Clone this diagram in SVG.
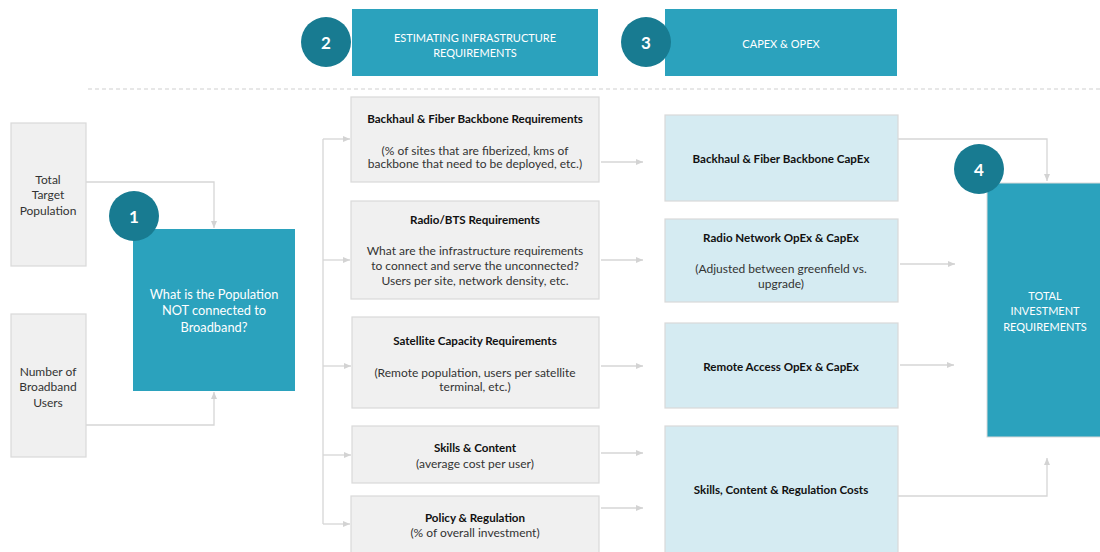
<svg xmlns="http://www.w3.org/2000/svg" width="1100" height="552" viewBox="0 0 1100 552">
<style>
text{font-family:Lato,"Open Sans","Liberation Sans",sans-serif;text-anchor:middle;dominant-baseline:central}
.hdr{fill:#2ba2bd}
.num{fill:#187b91}
.numt{fill:#fff;font-size:17px;font-weight:bold}
.hdrt{fill:#fff;font-size:11px}
.gray{fill:#f0f0f0;stroke:#d9d9d9;stroke-width:1.2}
.light{fill:#d5ebf2;stroke:#d9d9d9;stroke-width:1.2}
.t{fill:#333;font-size:12px}
.b{fill:#111;font-size:11.6px;font-weight:bold}
.wt{fill:#fff;font-size:12.8px}
.wt2{fill:#fff;font-size:11px}
.c{fill:none;stroke:#d6d6d6;stroke-width:1.3}
</style>
<defs>
<marker id="ah" markerUnits="userSpaceOnUse" markerWidth="8" markerHeight="8" refX="7" refY="4" orient="auto">
<path d="M0,1 L7,4 L0,7 Z" fill="#d3d3d3"/>
</marker>
</defs>

<line x1="88" y1="89" x2="1100" y2="89" stroke="#cfcfcf" stroke-width="1" stroke-dasharray="4 3"/>

<g id="header2">
<rect class="hdr" x="352" y="9" width="246" height="67"/>
<text class="hdrt" x="475" y="37">ESTIMATING INFRASTRUCTURE</text>
<text class="hdrt" x="475" y="52">REQUIREMENTS</text>
<circle class="num" cx="326" cy="42" r="25"/>
<text class="numt" x="326" y="42">2</text>
</g>
<g id="header3">
<rect class="hdr" x="665" y="9" width="232" height="67"/>
<text class="hdrt" x="781" y="43">CAPEX &amp; OPEX</text>
<circle class="num" cx="646" cy="42" r="25"/>
<text class="numt" x="646" y="42">3</text>
</g>

<g id="connectors">
<path class="c" d="M86,182 H214 V228" marker-end="url(#ah)"/>
<path class="c" d="M86,425 H214 V392" marker-end="url(#ah)"/>
<path class="c" d="M323,139 V524"/>
<path class="c" d="M323,139 H350" marker-end="url(#ah)"/>
<path class="c" d="M323,260 H350" marker-end="url(#ah)"/>
<path class="c" d="M323,366 H351" marker-end="url(#ah)"/>
<path class="c" d="M323,455 H351" marker-end="url(#ah)"/>
<path class="c" d="M323,524 H350" marker-end="url(#ah)"/>
<path class="c" d="M601,162 H643" marker-end="url(#ah)"/>
<path class="c" d="M601,260 H643" marker-end="url(#ah)"/>
<path class="c" d="M601,366 H643" marker-end="url(#ah)"/>
<path class="c" d="M601,453 H643" marker-end="url(#ah)"/>
<path class="c" d="M601,508 H643" marker-end="url(#ah)"/>
<path class="c" d="M898,139 H1047 V181" marker-end="url(#ah)"/>
<path class="c" d="M900,264 H955" marker-end="url(#ah)"/>
<path class="c" d="M900,365 H954" marker-end="url(#ah)"/>
<path class="c" d="M898,496 H1047 V458" marker-end="url(#ah)"/>
</g>

<g id="total-target-population">
<rect class="gray" x="11" y="123" width="75" height="143"/>
<text class="t" x="48" y="179">Total</text>
<text class="t" x="48" y="194">Target</text>
<text class="t" x="48" y="210">Population</text>
</g>
<g id="number-broadband-users">
<rect class="gray" x="11" y="314" width="75" height="143"/>
<text class="t" x="48" y="371">Number of</text>
<text class="t" x="48" y="386">Broadband</text>
<text class="t" x="48" y="402">Users</text>
</g>
<g id="population-not-connected">
<rect class="hdr" x="133" y="229" width="162" height="162"/>
<text class="wt" x="214" y="294">What is the Population</text>
<text class="wt" x="214" y="310">NOT connected to</text>
<text class="wt" x="214" y="327">Broadband?</text>
<circle class="num" cx="134" cy="216" r="25"/>
<text class="numt" x="134" y="216">1</text>
</g>

<g id="backhaul-req">
<rect class="gray" x="351" y="97" width="248" height="85"/>
<text class="b" x="475" y="118">Backhaul &amp; Fiber Backbone Requirements</text>
<text class="t" x="475" y="150">(% of sites that are fiberized, kms of</text>
<text class="t" x="475" y="163">backbone that need to be deployed, etc.)</text>
</g>
<g id="radio-req">
<rect class="gray" x="351" y="201" width="248" height="98"/>
<text class="b" x="475" y="219">Radio/BTS Requirements</text>
<text class="t" x="475" y="250">What are the infrastructure requirements</text>
<text class="t" x="475" y="265">to connect and serve the unconnected?</text>
<text class="t" x="475" y="280">Users per site, network density, etc.</text>
</g>
<g id="satellite-req">
<rect class="gray" x="352" y="317" width="247" height="91"/>
<text class="b" x="475" y="340">Satellite Capacity Requirements</text>
<text class="t" x="475" y="372">(Remote population, users per satellite</text>
<text class="t" x="475" y="386">terminal, etc.)</text>
</g>
<g id="skills-content">
<rect class="gray" x="352" y="426" width="247" height="57"/>
<text class="b" x="475" y="447">Skills &amp; Content</text>
<text class="t" x="475" y="463">(average cost per user)</text>
</g>
<g id="policy-regulation">
<rect class="gray" x="351" y="496" width="248" height="70"/>
<text class="b" x="475" y="517">Policy &amp; Regulation</text>
<text class="t" x="475" y="532">(% of overall investment)</text>
</g>

<g id="backhaul-capex">
<rect class="light" x="665" y="115" width="233" height="86"/>
<text class="b" x="781" y="158">Backhaul &amp; Fiber Backbone CapEx</text>
</g>
<g id="radio-capex">
<rect class="light" x="665" y="219" width="233" height="83"/>
<text class="b" x="781" y="237">Radio Network OpEx &amp; CapEx</text>
<text class="t" x="781" y="268">(Adjusted between greenfield vs.</text>
<text class="t" x="781" y="283">upgrade)</text>
</g>
<g id="remote-capex">
<rect class="light" x="665" y="323" width="233" height="85"/>
<text class="b" x="781" y="366">Remote Access OpEx &amp; CapEx</text>
</g>
<g id="skills-costs">
<rect class="light" x="665" y="426" width="233" height="140"/>
<text class="b" x="781" y="489">Skills, Content &amp; Regulation Costs</text>
</g>

<g id="total-investment">
<rect class="hdr" x="987" y="183" width="120" height="254" stroke="#d9d9d9" stroke-width="1"/>
<text class="wt2" x="1045" y="295">TOTAL</text>
<text class="wt2" x="1045" y="310">INVESTMENT</text>
<text class="wt2" x="1045" y="326">REQUIREMENTS</text>
<circle class="num" cx="979" cy="169" r="25"/>
<text class="numt" x="979" y="169">4</text>
</g>
</svg>
